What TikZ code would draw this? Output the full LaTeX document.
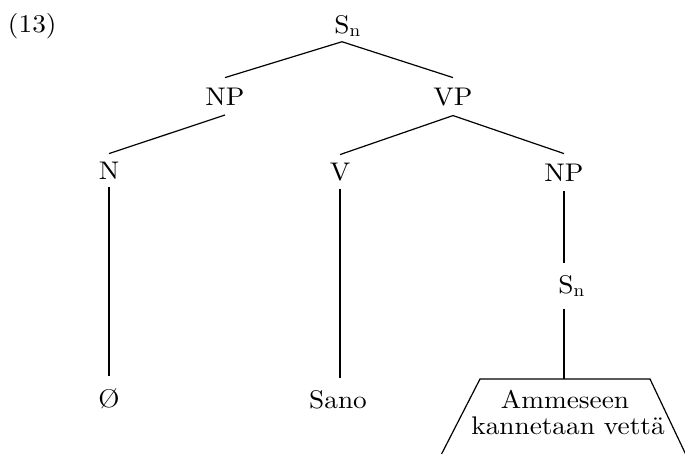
\documentclass[tikz,border=0pt]{standalone}
\usepackage{fontspec}
\setmainfont{lmroman10-regular.otf}[FakeStretch=1.07]
\begin{document}
\begin{tikzpicture}[x=1pt,y=-1pt,
  lab/.style={inner sep=0pt, outer xsep=0pt, outer ysep=9pt, anchor=base, font=\fontsize{25.5}{26}\selectfont},
  leaf/.style={lab, outer ysep=12pt},
  edge/.style={line width=1.2pt}]
\useasboundingbox (0,0) rectangle (685,453);
\clip (0,0) rectangle (685,453);
\node[lab, anchor=base west] (num) at (8,32) {(13)};
\node[lab, outer ysep=5pt] (S) at (342,33) {S\rlap{$_{\mathrm{n}}$}};
\node[lab, outer ysep=10pt] (NP1) at (225,105) {NP};
\node[lab, outer ysep=10pt] (VP) at (453,105) {VP};
\node[lab, outer ysep=8pt] (N) at (109,179) {N};
\node[lab, outer ysep=8pt] (V) at (340,180) {V};
\node[lab, outer ysep=10pt] (NP2) at (564,181) {NP};
\node[leaf] (S2) at (566,293) {S\rlap{$_{\mathrm{n}}$}};
\node[leaf] (O) at (109,407) {Ø};
\node[leaf] (Sano) at (338,408) {Sano};
\node[lab] (L1) at (565,408) {Ammeseen};
\node[lab] (L2) at (568,434) {kannetaan vettä};
\coordinate (tl) at (480,379);
\coordinate (tr) at (650,379);
\coordinate (bl) at (440,457);
\coordinate (br) at (687,457);
\draw[edge] (S.south) -- (NP1.north);
\draw[edge] (S.south) -- (VP.north);
\draw[edge] (NP1.south) -- (N.north);
\draw[edge] (VP.south) -- (V.north);
\draw[edge] (VP.south) -- (NP2.north);
\draw[edge] (N.south) -- (O.north);
\draw[edge] (V.south) -- (Sano.north -| V.south);
\draw[edge] (NP2.south) -- (S2.north -| NP2.south);
\draw[edge] (S2.south -| NP2.south) -- (tl -| NP2.south);
\draw[edge, line join=miter] (bl) -- (tl) -- (tr) -- (br);
\end{tikzpicture}
\end{document}
